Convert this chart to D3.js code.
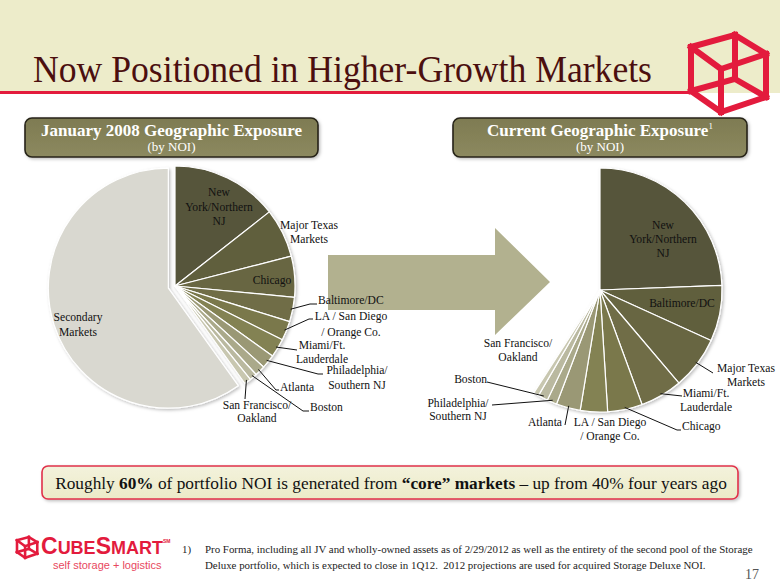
<!DOCTYPE html>
<html><head><meta charset="utf-8">
<script src="https://cdn.jsdelivr.net/npm/d3@7"></script>
<style>body{margin:0;background:#fff} svg{display:block}</style>
</head><body><svg id="c" width="780" height="585"></svg>
<script>
// ---------- data ----------
const leftCategories = ["New York/Northern NJ","Major Texas Markets","Chicago","Baltimore/DC","LA / San Diego / Orange Co.","Miami/Ft. Lauderdale","Philadelphia/ Southern NJ","Atlanta","Boston","San Francisco/ Oakland","Secondary Markets"];
const leftValues = [14.4, 6.6, 5.5, 3.3, 2.6, 2.5, 1.9, 1.4, 1.0, 0.9, 59.9];
const rightCategories = ["New York/Northern NJ","Baltimore/DC","Major Texas Markets","Miami/Ft. Lauderdale","Chicago","LA / San Diego / Orange Co.","Atlanta","Philadelphia/ Southern NJ","Boston","San Francisco/ Oakland","Secondary Markets"];
const rightValues = [24.4, 7.4, 7.0, 5.6, 4.6, 3.6, 3.2, 1.3, 1.3, 0.7, 40.9];
const titleText = "Now Positioned in Higher-Growth Markets";
const leftHeader = "January 2008 Geographic Exposure";
const rightHeader = "Current Geographic Exposure";
const subHeader = "(by NOI)";
const footnoteLines = ["Pro Forma, including all JV and wholly-owned assets as of 2/29/2012 as well as the entirety of the second pool of the Storage",
  "Deluxe portfolio, which is expected to close in 1Q12.  2012 projections are used for acquired Storage Deluxe NOI."];

// ---------- styles ----------
const palette = ["#56543a","#605e3e","#686643","#6f6d47","#7a784c","#838253","#9a9874","#aaa98a","#bab9a0","#c8c7b0"];
const secondaryColor = "#d9d8d0";
const serif = "'Liberation Serif','Times New Roman',serif";
const sans = "'Liberation Sans',Arial,sans-serif";

const svg = d3.select("#c");
const defs = svg.append("defs");
const sh = defs.append("filter").attr("id","sh").attr("x","-20%").attr("y","-20%").attr("width","140%").attr("height","140%");
sh.append("feDropShadow").attr("dx",1.5).attr("dy",1.5).attr("stdDeviation",1.5).attr("flood-color","#000").attr("flood-opacity",0.25);
const hg = defs.append("linearGradient").attr("id","hg").attr("x1",0).attr("y1",0).attr("x2",0).attr("y2",1);
hg.append("stop").attr("offset","0%").attr("stop-color","#7e7b52");
hg.append("stop").attr("offset","100%").attr("stop-color","#8c895f");
const cg = defs.append("linearGradient").attr("id","cg").attr("x1",0).attr("y1",0).attr("x2",0).attr("y2",1);
cg.append("stop").attr("offset","0%").attr("stop-color","#f3f2dc");
cg.append("stop").attr("offset","100%").attr("stop-color","#ecebc8");

// ---------- background / title ----------
svg.append("rect").attr("x",0).attr("y",0).attr("width",780).attr("height",93).attr("fill","#edecca");
svg.append("rect").attr("x",0).attr("y",91).attr("width",690).attr("height",3).attr("fill","#e31b3d");
svg.append("text").attr("x",33).attr("y",82).attr("font-family",serif).attr("font-size",37)
  .attr("textLength",619).attr("lengthAdjust","spacingAndGlyphs")
  .attr("fill","#4b0f0f").text(titleText);

// cube logo (wireframe)
function cube(g, s, ox, oy, sw){
  const P = {A:[0,12],D:[30,34],F:[30,77],G:[0,56],B:[44,0],C:[75,19],H:[75,62],E:[44,44]};
  const p = k => [ox + P[k][0]*s, oy + P[k][1]*s];
  const edges = [["A","D"],["D","F"],["F","G"],["G","A"],["B","C"],["C","H"],["H","E"],["E","B"],["A","B"],["D","C"],["F","H"],["G","E"]];
  const line = d3.line();
  edges.forEach(e => g.append("path").attr("d", line([p(e[0]),p(e[1])]))
    .attr("stroke","#e31b3d").attr("stroke-width",sw).attr("stroke-linecap","square").attr("fill","none"));
}
cube(svg.append("g"), 1, 691, 35, 6);

// ---------- header boxes ----------
function header(x0,x1,txt,sup){
  const g = svg.append("g");
  g.append("rect").attr("x",x0).attr("y",118).attr("width",x1-x0).attr("height",39).attr("rx",7)
   .attr("fill","url(#hg)").attr("stroke","#262418").attr("stroke-width",1.6).attr("filter","url(#sh)");
  const cx = (x0+x1)/2;
  const t = g.append("text").attr("x",cx).attr("y",136).attr("text-anchor","middle").attr("font-family",serif)
   .attr("font-size",17).attr("font-weight","bold").attr("fill","#fff");
  t.append("tspan").text(txt);
  if(sup) t.append("tspan").attr("font-size",9).attr("font-weight","normal").attr("dy",-7).text(sup);
  g.append("text").attr("x",cx).attr("y",151).attr("text-anchor","middle").attr("font-family",serif)
   .attr("font-size",13).attr("fill","#fff").text(subHeader);
}
header(25,318,leftHeader,null);
header(453,747,rightHeader,"1");

// ---------- arrow ----------
svg.append("path").attr("d", d3.line()([[328,255],[495,255],[495,228],[550,282],[495,335],[495,310],[328,310]]) + "Z")
  .attr("fill","#b2b18f");

// ---------- pies ----------
const pie = d3.pie().sort(null).value(d=>d.v);
function drawPie(cats, vals, cx, cy, r, showSecondary, explode){
  const data = cats.map((c,i)=>({c, v: vals[i], i}));
  const arcs = pie(data);
  const arc = d3.arc().innerRadius(0).outerRadius(r);
  const g = svg.append("g").attr("transform",`translate(${cx},${cy})`).attr("filter","url(#sh)");
  arcs.forEach(a => {
    const isSec = a.data.c === "Secondary Markets";
    if(isSec && !showSecondary) return;
    const mid = (a.startAngle + a.endAngle)/2;
    const off = isSec ? explode : 0;
    g.append("path").attr("d", arc(a))
      .attr("transform", `translate(${off*Math.sin(mid)},${-off*Math.cos(mid)})`)
      .attr("fill", isSec ? secondaryColor : palette[a.index])
      .attr("stroke","#fff").attr("stroke-width",1.2).attr("stroke-linejoin","round");
  });
  return {arcs, cx, cy, r};
}
function rimPoint(P, name, rr){
  const a = P.arcs.find(d=>d.data.c===name);
  const m = (a.startAngle + a.endAngle)/2;
  const r = rr || P.r - 2;
  return [P.cx + r*Math.sin(m), P.cy - r*Math.cos(m)];
}
function label(lines, x, ys, anchor){
  const t = svg.append("text").attr("font-family",serif).attr("font-size",11.6).attr("fill","#111").attr("text-anchor",anchor||"middle");
  lines.forEach((l,i)=> t.append("tspan").attr("x",x).attr("y",ys[i]).text(l));
}
function leader(P, name, pts){
  svg.append("path").attr("d", d3.line()([rimPoint(P,name)].concat(pts)))
    .attr("fill","none").attr("stroke","#111").attr("stroke-width",1);
}

const L = drawPie(leftCategories, leftValues, 175, 286, 120, true, 7);
const R = drawPie(rightCategories, rightValues, 600, 290, 122, false, 0);

// left labels
label(["New","York/Northern","NJ"], 219, [196,211,225]);
label(["Major Texas","Markets"], 309, [229,243]);
label(["Chicago"], 272, [284]);
label(["Secondary","Markets"], 78, [321,336]);
label(["Baltimore/DC"], 318, [304], "start"); leader(L, "Baltimore/DC", [[310,304],[317,304]]);
label(["LA / San Diego","/ Orange Co."], 351, [320,336]); leader(L, "LA / San Diego / Orange Co.", [[309,319],[313,319]]);
label(["Miami/Ft.","Lauderdale"], 322, [349,363]); leader(L, "Miami/Ft. Lauderdale", [[297,350]]);
label(["Philadelphia/","Southern NJ"], 357, [374,389]); leader(L, "Philadelphia/ Southern NJ", [[318,374],[323,374]]);
label(["Atlanta"], 280, [391], "start"); leader(L, "Atlanta", [[276,390],[279,390]]);
label(["Boston"], 310, [411], "start"); leader(L, "Boston", [[303,411],[309,411]]);
label(["San Francisco/","Oakland"], 257, [409,422]); leader(L, "San Francisco/ Oakland", [[245,399]]);

// right labels
label(["New","York/Northern","NJ"], 663, [229,243,257]);
label(["Baltimore/DC"], 682, [307]);
label(["Major Texas","Markets"], 746, [372,386]); leader(R, "Major Texas Markets", [[713,373]]);
label(["Miami/Ft.","Lauderdale"], 706, [397,411]); leader(R, "Miami/Ft. Lauderdale", [[682,396]]);
label(["Chicago"], 682, [430], "start"); leader(R, "Chicago", [[677,430],[681,430]]);
label(["LA / San Diego","/ Orange Co."], 610, [426,440]);
label(["Atlanta"], 562, [426], "end"); leader(R, "Atlanta", [[565,425]]);
label(["Philadelphia/","Southern NJ"], 458, [407,420]); leader(R, "Philadelphia/ Southern NJ", [[492,405]]);
label(["Boston"], 487, [383], "end"); leader(R, "Boston", [[487,382]]);
label(["San Francisco/","Oakland"], 518, [347,361]);

// ---------- callout ----------
svg.append("rect").attr("x",42).attr("y",466).attr("width",696).attr("height",33).attr("rx",6)
  .attr("fill","url(#cg)").attr("stroke","#e0304a").attr("stroke-width",1.6).attr("filter","url(#sh)");
const ct = svg.append("text").attr("x",391).attr("y",489).attr("text-anchor","middle").attr("font-family",serif).attr("font-size",17.3).attr("fill","#111");
[["Roughly ",0],["60%",1],[" of portfolio NOI is generated from ",0],["\u201ccore\u201d markets",1],[" \u2013 up from 40% four years ago",0]]
  .forEach(s => ct.append("tspan").attr("font-weight", s[1] ? "bold" : "normal").text(s[0]));

// ---------- footer ----------
cube(svg.append("g"), 0.27, 17, 537, 2.6);
const lg = svg.append("text").attr("x",41).attr("y",554).attr("font-family",sans).attr("font-weight","bold").attr("fill","#e31b3d");
[["C",23],["UBE",18],["S",23],["MART",18]].forEach(s=> lg.append("tspan").attr("font-size",s[1]).text(s[0]));
lg.append("tspan").attr("font-size",5).attr("dy",-11).text("SM");
svg.append("text").attr("x",53).attr("y",569).attr("font-family",sans).attr("font-size",11).attr("fill","#e8485e").text("self storage + logistics");
svg.append("text").attr("x",182).attr("y",553).attr("font-family",serif).attr("font-size",10.9).attr("fill","#222").text("1)");
footnoteLines.forEach((l,i)=> svg.append("text").attr("x",205).attr("y",553+i*16).attr("font-family",serif)
  .attr("font-size",10.9).attr("fill","#222").attr("xml:space","preserve").style("white-space","pre").text(l));
svg.append("text").attr("x",745).attr("y",579).attr("font-family",serif).attr("font-size",14).attr("fill","#555").text("17");
</script></body></html>
